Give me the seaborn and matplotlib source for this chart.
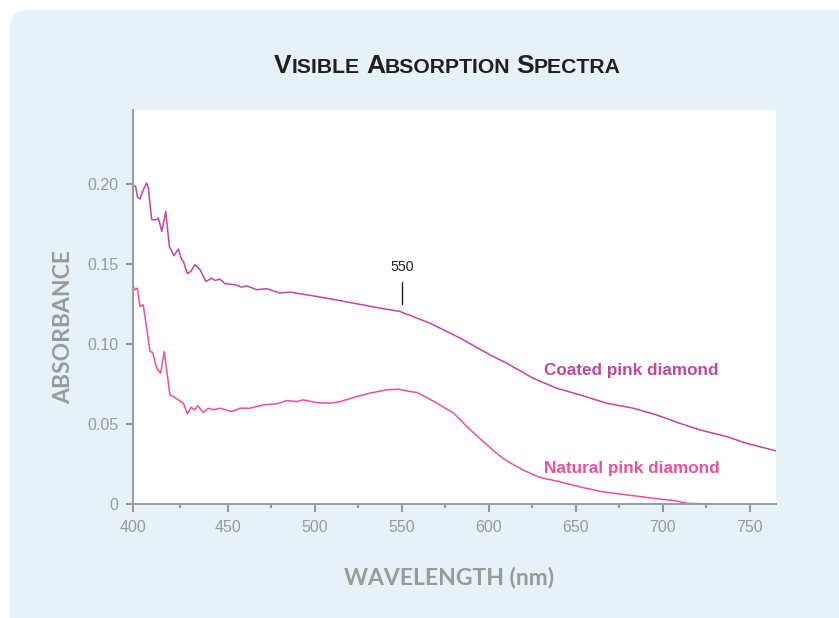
import numpy as np
import pandas as pd
import matplotlib
matplotlib.use("Agg")
import matplotlib.pyplot as plt
import seaborn as sns
from matplotlib import font_manager as fm
from matplotlib.patches import FancyBboxPatch
from matplotlib.transforms import IdentityTransform
from matplotlib.ticker import FixedLocator, FuncFormatter

# ---- spectra (wavelength in nm, absorbance) ----
coated_nm = [400.0, 401.4, 402.3, 403.7, 405.1, 407.2, 408.1, 409.9, 412.5, 413.4,
             415.2, 417.3, 419.2, 421.6, 423.9, 425.7, 426.6, 428.7, 430.5, 432.7,
             435.4, 438.5, 441.5, 443.3, 445.9, 448.6, 454.2, 458.0, 460.9, 466.7,
             472.4, 480.0, 485.8, 495.4, 506.9, 520.2, 537.5, 549.0, 566.2, 583.5,
             600.7, 610.3, 625.5, 639.0, 652.4, 667.7, 683.0, 696.4, 709.7, 721.2,
             736.6, 748.0, 765.3]
coated_abs = [0.1988, 0.1983, 0.1920, 0.1904, 0.1952, 0.2004, 0.1973, 0.1775, 0.1775, 0.1786,
              0.1702, 0.1827, 0.1608, 0.1550, 0.1592, 0.1525, 0.1515, 0.1438, 0.1452, 0.1494,
              0.1463, 0.1389, 0.1410, 0.1396, 0.1404, 0.1375, 0.1369, 0.1354, 0.1362, 0.1338,
              0.1344, 0.1317, 0.1323, 0.1306, 0.1285, 0.1258, 0.1223, 0.1202, 0.1129, 0.1036,
              0.0931, 0.0879, 0.0785, 0.0723, 0.0681, 0.0629, 0.0598, 0.0556, 0.0504, 0.0463,
              0.0421, 0.0379, 0.0331]

natural_nm = [400.2, 401.0, 402.3, 403.7, 405.4, 409.0, 410.4, 412.5, 414.6, 416.5,
              419.5, 422.2, 423.9, 426.6, 428.7, 430.6, 432.7, 434.2, 437.1, 439.8,
              442.4, 445.9, 452.3, 457.1, 462.8, 470.4, 478.1, 483.9, 489.6, 493.4,
              501.1, 508.7, 514.5, 524.1, 531.7, 541.3, 548.0, 554.7, 559.0, 570.3,
              579.8, 589.3, 596.8, 604.4, 610.0, 619.5, 629.0, 640.3, 653.5, 664.9,
              680.0, 695.1, 706.5, 714.0, 727.3]
natural_abs = [0.1358, 0.1338, 0.1348, 0.1233, 0.1244, 0.0952, 0.0946, 0.0848, 0.0817, 0.0952,
               0.0681, 0.0664, 0.0650, 0.0629, 0.0563, 0.0604, 0.0588, 0.0613, 0.0571, 0.0598,
               0.0588, 0.0598, 0.0577, 0.0598, 0.0598, 0.0619, 0.0625, 0.0646, 0.0639, 0.0650,
               0.0633, 0.0629, 0.0639, 0.0671, 0.0692, 0.0713, 0.0717, 0.0702, 0.0696, 0.0629,
               0.0567, 0.0463, 0.0390, 0.0317, 0.0271, 0.0213, 0.0167, 0.0140, 0.0104, 0.0077,
               0.0056, 0.0035, 0.0021, 0.0004, 0.0000]

series_names = ["Coated pink diamond", "Natural pink diamond"]
series_colors = ["#c2479b", "#ef4f9c"]

x_ticks = [400, 450, 500, 550, 600, 650, 700, 750]
x_minor = [425, 475, 525, 575, 625, 675, 725]
y_ticks = [0, 0.05, 0.10, 0.15, 0.20]
y_tick_labels = ["0", "0.05", "0.10", "0.15", "0.20"]

marker_nm = 550

df = pd.concat([
    pd.DataFrame({"wavelength": coated_nm, "absorbance": coated_abs, "sample": series_names[0]}),
    pd.DataFrame({"wavelength": natural_nm, "absorbance": natural_abs, "sample": series_names[1]}),
], ignore_index=True)


def pick_font(candidates, fallback="DejaVu Sans"):
    for name in candidates:
        try:
            fm.findfont(fm.FontProperties(family=name), fallback_to_default=False)
            return name
        except Exception:
            continue
    return fallback


sns.set_theme(style="ticks")
sans = pick_font(["Liberation Sans", "Arial", "Helvetica"])
label_font = pick_font(["Lato", "Open Sans"])
plt.rcParams["font.family"] = [sans, "DejaVu Sans"]

W, H = 839, 618
fig = plt.figure(figsize=(W / 100, H / 100), dpi=100, facecolor="white")

# light blue rounded panel behind everything
panel = FancyBboxPatch((10, -40), 870, 648, boxstyle="round,pad=0,rounding_size=18",
                       transform=IdentityTransform(), facecolor="#e6f2f7",
                       edgecolor="none", zorder=-5)
fig.patches.append(panel)

ax = fig.add_axes([133 / W, 114 / H, 643 / W, 394 / H])
ax.set_facecolor("white")

# the 400-450 nm stretch of the axis is drawn wider than the rest
k = 1.088
def fwd(x):
    x = np.asarray(x, dtype=float)
    return np.where(x < 450, 450 - (450 - x) * k, x)
def inv(y):
    y = np.asarray(y, dtype=float)
    return np.where(y < 450, 450 - (450 - y) / k, y)
ax.set_xscale("function", functions=(fwd, inv))

sns.lineplot(data=df, x="wavelength", y="absorbance", hue="sample",
             palette=dict(zip(series_names, series_colors)), estimator=None,
             sort=False, legend=False, linewidth=1.1, ax=ax)

ax.set_xlim(400, 765)
ax.set_ylim(0, 0.246)

ax.xaxis.set_major_locator(FixedLocator(x_ticks))
ax.xaxis.set_minor_locator(FixedLocator(x_minor))
ax.xaxis.set_major_formatter(FuncFormatter(lambda v, p: f"{v:.0f}"))
ax.xaxis.set_minor_formatter(FuncFormatter(lambda v, p: ""))
ax.yaxis.set_major_locator(FixedLocator(y_ticks))
ax.set_yticklabels(y_tick_labels)

grey = "#9a9a9a"
for side in ("top", "right"):
    ax.spines[side].set_visible(False)
for side in ("left", "bottom"):
    ax.spines[side].set_color(grey)
    ax.spines[side].set_linewidth(1.4)
ax.tick_params(axis="x", which="major", length=5.8, width=1.5, color=grey,
               labelcolor=grey, labelsize=11.5, pad=6)
ax.tick_params(axis="x", which="minor", length=3, width=1.5, color=grey)
ax.tick_params(axis="y", which="major", length=5.2, width=1.5, color=grey,
               labelcolor=grey, labelsize=11.5, pad=5.5)
ax.tick_params(axis="y", which="minor", length=0)

ax.set_xlabel("WAVELENGTH (nm)", fontsize=16.5, fontweight="bold", color=grey,
              family=[label_font, "DejaVu Sans"])
ax.xaxis.set_label_coords(0.491, -0.16)
ax.set_ylabel("ABSORBANCE", fontsize=16.5, fontweight="bold", color=grey,
              family=[label_font, "DejaVu Sans"], va="center")
ax.yaxis.set_label_coords(-0.1073, 0.4505)

# series labels
ax.text(631.7, 0.0806, series_names[0], color=series_colors[0], fontsize=12.3,
        fontweight="bold", ha="left", va="baseline")
ax.text(631.7, 0.0192, series_names[1], color=series_colors[1], fontsize=12.3,
        fontweight="bold", ha="left", va="baseline")

# 550 nm marker
ax.plot([marker_nm, marker_nm], [0.1248, 0.1383], color="#222222", linewidth=1.0)
ax.text(marker_nm, 0.1452, f"{marker_nm}", color="#222222", fontsize=10.2,
        ha="center", va="baseline")

# small-caps title
def small_caps(words, x_center, y_base, big, small, gap, **kw):
    items = []
    for i, w in enumerate(words):
        items.append((w[0], big, 0 if i == 0 else gap))
        items.append((w[1:], small, 0))
    texts = []
    for s, size, g in items:
        t = fig.text(0, y_base, s, fontsize=size, transform=IdentityTransform(),
                     ha="left", va="baseline", **kw)
        texts.append((t, g))
    r = fig.canvas.get_renderer()
    widths = [t.get_window_extent(r).width for t, _ in texts]
    total = sum(widths) + sum(g for _, g in texts)
    x = x_center - total / 2
    for (t, g), w in zip(texts, widths):
        x += g
        t.set_x(x)
        x += w

small_caps(["VISIBLE", "ABSORPTION", "SPECTRA"], 447.5, H - 72.7, 19, 15.2, 6,
           color="#231f20", fontweight="bold", family=[sans, "DejaVu Sans"])

fig.savefig("out.png", dpi=100, facecolor="white")
